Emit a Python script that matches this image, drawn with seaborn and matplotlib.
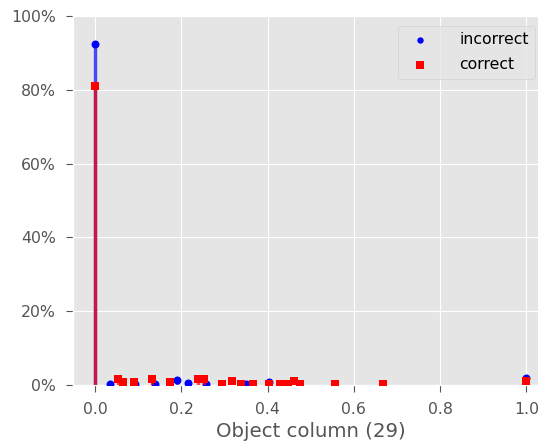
import matplotlib
matplotlib.use("Agg")
import matplotlib.pyplot as plt
from matplotlib.ticker import PercentFormatter
import seaborn as sns

# Share of rows per value of object column 29
incorrect_x = [0.0, 0.035, 0.093, 0.14, 0.19, 0.216, 0.257, 0.35, 0.404, 1.0]
incorrect_y = [0.924, 0.003, 0.003, 0.003, 0.014, 0.006, 0.003, 0.003, 0.009, 0.018]

correct_x = [0.0, 0.053, 0.065, 0.09, 0.132, 0.175, 0.238, 0.252, 0.295, 0.318,
             0.339, 0.366, 0.404, 0.43, 0.448, 0.462, 0.476, 0.557, 0.667, 1.0]
correct_y = [0.81, 0.017, 0.008, 0.009, 0.015, 0.009, 0.017, 0.017, 0.002, 0.010,
             0.002, 0.002, 0.002, 0.002, 0.002, 0.010, 0.002, 0.002, 0.002, 0.011]

x_ticks = [0.0, 0.2, 0.4, 0.6, 0.8, 1.0]
y_ticks = [0.0, 0.2, 0.4, 0.6, 0.8, 1.0]

plt.style.use("ggplot")
fig = plt.figure(figsize=(5.38, 4.45), dpi=100)
ax = fig.add_axes([73.4 / 538, 60 / 445, 474.6 / 538, 369 / 445])

ax.vlines(incorrect_x, 0, incorrect_y, colors="blue", alpha=0.7, lw=2.4, zorder=2)
sns.scatterplot(x=incorrect_x, y=incorrect_y, marker="o", color="blue", s=33,
                linewidth=0, label="incorrect", ax=ax, zorder=3)
ax.vlines(correct_x, 0, correct_y, colors="red", alpha=0.7, lw=2.4, zorder=4)
sns.scatterplot(x=correct_x, y=correct_y, marker="s", color="red", s=40,
                linewidth=0, label="correct", ax=ax, zorder=5)

ax.set_xlim(-0.05, 1.05)
ax.set_ylim(0, 1)
ax.set_xticks(x_ticks)
ax.set_yticks(y_ticks)
ax.yaxis.set_major_formatter(PercentFormatter(1.0, decimals=0))
ax.tick_params(labelsize=11.3, colors="#555555", length=5, pad=7.5)
ax.set_xlabel("Object column (29)", fontsize=14.2, color="#555555", labelpad=3)
ax.set_ylabel("")

ax.legend(loc="upper right", bbox_to_anchor=(0.973, 0.973), borderaxespad=0,
          fontsize=11.3, markerscale=0.8, handletextpad=1.5, labelspacing=0.65)

fig.savefig("out.png", dpi=100)
